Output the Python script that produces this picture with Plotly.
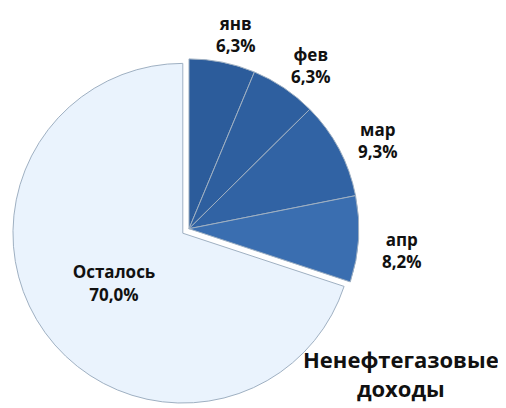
import math
import plotly.graph_objects as go

labels = ["янв", "фев", "мар", "апр", "Осталось"]
values = [6.3, 6.3, 9.3, 8.2, 70.0]
colors = ["#2c5c9b", "#2e5f9f", "#3163a4", "#3a6eb0", "#eaf3fd"]
pulls = [0, 0, 0, 0, 0.045]
title_text = "Ненефтегазовые<br>доходы"

W, H = 506, 408
dom_x = [0.0, 0.7154]
dom_y = [0.024, 0.894]
# offset observed between the domain centre and where plotly draws the pie
SHIFT_X, SHIFT_Y = 6, 9

templates = ["", "", "", "", "<b>%{label}<br>%{value:.1f}%</b>"]

fig = go.Figure(go.Pie(
    labels=labels,
    values=values,
    sort=False,
    direction="clockwise",
    rotation=0,
    pull=pulls,
    textposition="inside",
    texttemplate=templates,
    insidetextorientation="horizontal",
    marker=dict(colors=colors, line=dict(color="#9fb0c2", width=1)),
    insidetextfont=dict(family="Open Sans", size=17, color="#111111"),
    domain=dict(x=dom_x, y=dom_y),
    showlegend=False,
    hoverinfo="label+value",
))

pw = W * (dom_x[1] - dom_x[0])
ph = H * (dom_y[1] - dom_y[0])
r = min(pw, ph) / 2 / (1 + max(pulls))
cx = W * (dom_x[0] + dom_x[1]) / 2 + SHIFT_X
cy = H * (1 - (dom_y[0] + dom_y[1]) / 2) + SHIFT_Y
total = sum(values)
cum = 0.0
for lab, v in zip(labels, values):
    mid = 2 * math.pi * (cum + v / 2) / total
    cum += v
    if lab == "Осталось":
        continue
    k = 1.22
    px = cx + k * r * math.sin(mid)
    py = cy - k * r * math.cos(mid)
    fig.add_annotation(
        x=px / W, y=1 - py / H, xref="paper", yref="paper",
        text="<b>%s<br>%s%%</b>" % (lab, ("%.1f" % v).replace(".", ",")),
        showarrow=False, xanchor="center", yanchor="middle",
        font=dict(family="Open Sans", size=17, color="#111111"),
    )

fig.add_annotation(
    x=393 / W, y=1 - 365 / H, xref="paper", yref="paper",
    text="<b>%s</b>" % title_text, showarrow=False,
    xanchor="center", yanchor="middle",
    font=dict(family="Open Sans", size=22, color="#111111"),
)

fig.update_layout(
    width=W,
    height=H,
    margin=dict(l=0, r=0, t=0, b=0),
    paper_bgcolor="white",
    separators=", ",
    font=dict(family="Open Sans"),
)

fig.write_html("out.html")
